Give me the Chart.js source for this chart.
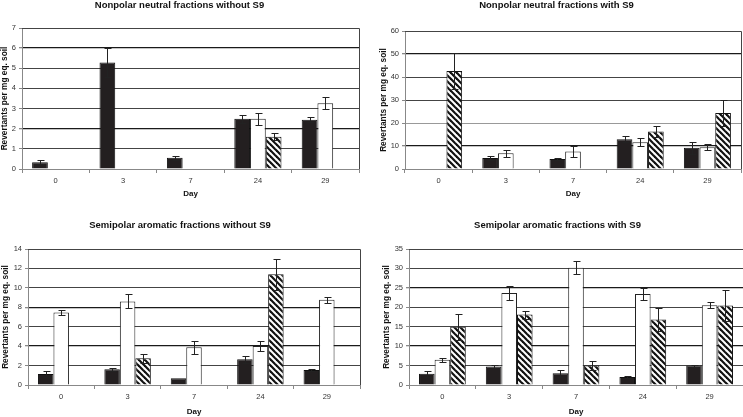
<!DOCTYPE html>
<html>
<head>
<meta charset="utf-8">
<script src="https://cdn.jsdelivr.net/npm/chart.js@4/dist/chart.umd.min.js"></script>
<style>
  body { margin: 0; background: #fff; }
  #wrap { position: relative; width: 743px; height: 417px; }
  canvas { position: absolute; }
</style>
</head>
<body>
<div id="wrap">
  <canvas id="c1" width="371" height="209" style="left:0;top:0"></canvas>
  <canvas id="c2" width="371" height="209" style="left:372px;top:0"></canvas>
  <canvas id="c3" width="371" height="208" style="left:0;top:209px"></canvas>
  <canvas id="c4" width="371" height="208" style="left:372px;top:209px"></canvas>
</div>
<script>
// categories
const days = ["0", "3", "7", "24", "29"];

// Nonpolar neutral fractions without S9
const nnNoS9Black = [0.34, 5.29, 0.56, 2.5, 2.45];
const nnNoS9BlackErr = [0.11, 0.73, 0.1, 0.2, 0.13];
const nnNoS9White = [null, null, null, 2.5, 3.26];
const nnNoS9WhiteErr = [null, null, null, 0.3, 0.3];
const nnNoS9Hatch = [null, null, null, 1.6, null];
const nnNoS9HatchErr = [null, null, null, 0.17, null];

// Nonpolar neutral fractions with S9
const nnS9Black = [null, 4.8, 4.3, 12.9, 9.2];
const nnS9BlackErr = [null, 0.9, 0.3, 1.3, 2.7];
const nnS9White = [null, 6.8, 7.6, 11.6, 9.5];
const nnS9WhiteErr = [null, 1.5, 2.2, 1.7, 1.3];
const nnS9Hatch = [42.6, null, null, 16.3, 24.4];
const nnS9HatchErr = [7.8, null, null, 2.6, 5.7];

// Semipolar aromatic fractions without S9
const saNoS9Black = [1.13, 1.62, 0.69, 2.65, 1.55];
const saNoS9BlackErr = [0.28, 0.17, null, 0.38, 0.14];
const saNoS9White = [7.46, 8.6, 3.89, 4.02, 8.77];
const saNoS9WhiteErr = [0.25, 0.72, 0.69, 0.55, 0.3];
const saNoS9Hatch = [null, 2.75, null, 11.39, null];
const saNoS9HatchErr = [null, 0.48, null, 1.58, null];

// Semipolar aromatic fractions with S9
const saS9Black = [2.92, 4.73, 3.0, 2.06, 4.99];
const saS9BlackErr = [0.78, 0.43, 0.95, 0.2, 0.26];
const saS9White = [6.53, 23.65, 30.18, 23.4, 20.55];
const saS9WhiteErr = [0.52, 1.7, 1.63, 1.6, 0.86];
const saS9Hatch = [14.96, 18.14, 4.99, 16.85, 20.46];
const saS9HatchErr = [3.35, 1.03, 1.1, 2.84, 3.87];

const yTitle = "Revertants per mg eq. soil";
const fontFam = "'Liberation Sans', Arial, sans-serif";

// diagonal hatch pattern
function makeHatch() {
    const p = document.createElement("canvas");
    p.width = 6; p.height = 6;
    const g = p.getContext("2d");
    g.fillStyle = "#fff";
    g.fillRect(0, 0, 6, 6);
    g.strokeStyle = "#111";
    g.lineWidth = 2.2;
    for (let k = -1; k <= 1; k++) {
        g.beginPath();
        g.moveTo(k * 6 - 1, -1);
        g.lineTo(k * 6 + 7, 7);
        g.stroke();
    }
    return g.createPattern(p, "repeat");
}
const hatch = makeHatch();

// error bars drawn on the chart's own scales
const errorBars = {
    id: "errorBars",
    afterDatasetsDraw(chart) {
        const ctx = chart.ctx;
        const y = chart.scales.y;
        ctx.save();
        ctx.strokeStyle = "#222";
        ctx.lineWidth = 1;
        chart.data.datasets.forEach((ds, i) => {
            const meta = chart.getDatasetMeta(i);
            ds.data.forEach((v, j) => {
                const e = ds.errors[j];
                if (v == null || e == null) return;
                const x = Math.round(meta.data[j].x) + 0.5;
                const top = Math.round(y.getPixelForValue(v + e)) + 0.5;
                const bot = Math.round(y.getPixelForValue(v - e)) + 0.5;
                ctx.beginPath();
                ctx.moveTo(x, top); ctx.lineTo(x, bot);
                ctx.moveTo(x - 3, top); ctx.lineTo(x + 4, top);
                ctx.moveTo(x - 3, bot); ctx.lineTo(x + 4, bot);
                ctx.stroke();
            });
        });
        ctx.restore();
    }
};

// plot area frame (top and right edges)
const frame = {
    id: "frame",
    beforeDatasetsDraw(chart) {
        const a = chart.chartArea;
        const ctx = chart.ctx;
        ctx.save();
        ctx.strokeStyle = "#444";
        ctx.lineWidth = 1;
        ctx.beginPath();
        ctx.moveTo(Math.round(a.left), Math.round(a.top) + 0.5);
        ctx.lineTo(Math.round(a.right) + 0.5, Math.round(a.top) + 0.5);
        ctx.lineTo(Math.round(a.right) + 0.5, Math.round(a.bottom));
        ctx.stroke();
        ctx.restore();
    }
};

function makePanel(id, title, black, blackErr, white, whiteErr, hatched, hatchedErr, yMax, yStep, geo) {
    const ctx = document.getElementById(id).getContext("2d");
    new Chart(ctx, {
        type: "bar",
        data: {
            labels: days,
            datasets: [
                { data: black, errors: blackErr, backgroundColor: "#231f20", borderColor: "#111", borderWidth: 1 },
                { data: white, errors: whiteErr, backgroundColor: "#fff", borderColor: "#222", borderWidth: 1 },
                { data: hatched, errors: hatchedErr, backgroundColor: hatch, borderColor: "#111", borderWidth: 1 }
            ]
        },
        options: {
            responsive: false,
            animation: false,
            categoryPercentage: 0.7,
            barPercentage: 1,
            layout: { padding: { left: 0, right: geo.right, top: 0, bottom: 0 } },
            plugins: {
                legend: { display: false },
                tooltip: { enabled: false },
                title: {
                    display: true,
                    text: title,
                    color: "#111",
                    font: { family: fontFam, size: 9.5, weight: "bold" },
                    padding: { top: geo.titleTop, bottom: geo.titleBottom }
                }
            },
            scales: {
                x: {
                    afterFit: s => { s.height = geo.xHeight; },
                    grid: { drawOnChartArea: false, tickLength: 4, color: "#888", offset: true },
                    border: { color: "#888" },
                    ticks: { color: "#333", padding: 3, font: { family: fontFam, size: 7.5 } },
                    title: {
                        display: true, text: "Day", color: "#111",
                        font: { family: fontFam, size: 8, weight: "bold" },
                        padding: { top: 0, bottom: geo.dayPad }
                    }
                },
                y: {
                    min: 0, max: yMax,
                    afterFit: s => { s.width = geo.yWidth; },
                    ticks: { stepSize: yStep, color: "#333", padding: 3, font: { family: fontFam, size: 7.5 } },
                    grid: {
                        tickLength: 3,
                        tickColor: "#888",
                        color: c => geo.heavy.includes(c.tick.value) ? "#1a1a1a" : (geo.light.includes(c.tick.value) ? "#999" : "#444"),
                        lineWidth: c => geo.heavy.includes(c.tick.value) ? 1.3 : 1
                    },
                    border: { color: "#888" },
                    title: {
                        display: true, text: yTitle, color: "#111",
                        font: { family: fontFam, size: 8.3, weight: "bold" },
                        padding: { top: geo.yTitlePad, bottom: 0 }
                    }
                }
            }
        },
        plugins: [frame, errorBars]
    });
}

makePanel("c1", "Nonpolar neutral fractions without S9",
    nnNoS9Black, nnNoS9BlackErr, nnNoS9White, nnNoS9WhiteErr, nnNoS9Hatch, nnNoS9HatchErr, 7, 1,
    { right: 12, titleTop: 0, titleBottom: 16.6, xHeight: 40, dayPad: 10, yWidth: 22, yTitlePad: 0, heavy: [6, 2], light: [] });

makePanel("c2", "Nonpolar neutral fractions with S9",
    nnS9Black, nnS9BlackErr, nnS9White, nnS9WhiteErr, nnS9Hatch, nnS9HatchErr, 60, 10,
    { right: 2, titleTop: 0, titleBottom: 19.6, xHeight: 40, dayPad: 10, yWidth: 33, yTitlePad: 7, heavy: [50, 10], light: [20] });

makePanel("c3", "Semipolar aromatic fractions without S9",
    saNoS9Black, saNoS9BlackErr, saNoS9White, saNoS9WhiteErr, saNoS9Hatch, saNoS9HatchErr, 14, 2,
    { right: 11, titleTop: 10.3, titleBottom: 18.3, xHeight: 32, dayPad: 0.5, yWidth: 28, yTitlePad: 1, heavy: [8, 4], light: [] });

makePanel("c4", "Semipolar aromatic fractions with S9",
    saS9Black, saS9BlackErr, saS9White, saS9WhiteErr, saS9Hatch, saS9HatchErr, 35, 5,
    { right: 0, titleTop: 10.3, titleBottom: 18.3, xHeight: 32, dayPad: 0.5, yWidth: 37, yTitlePad: 10, heavy: [25, 10], light: [] });
</script>
</body>
</html>
